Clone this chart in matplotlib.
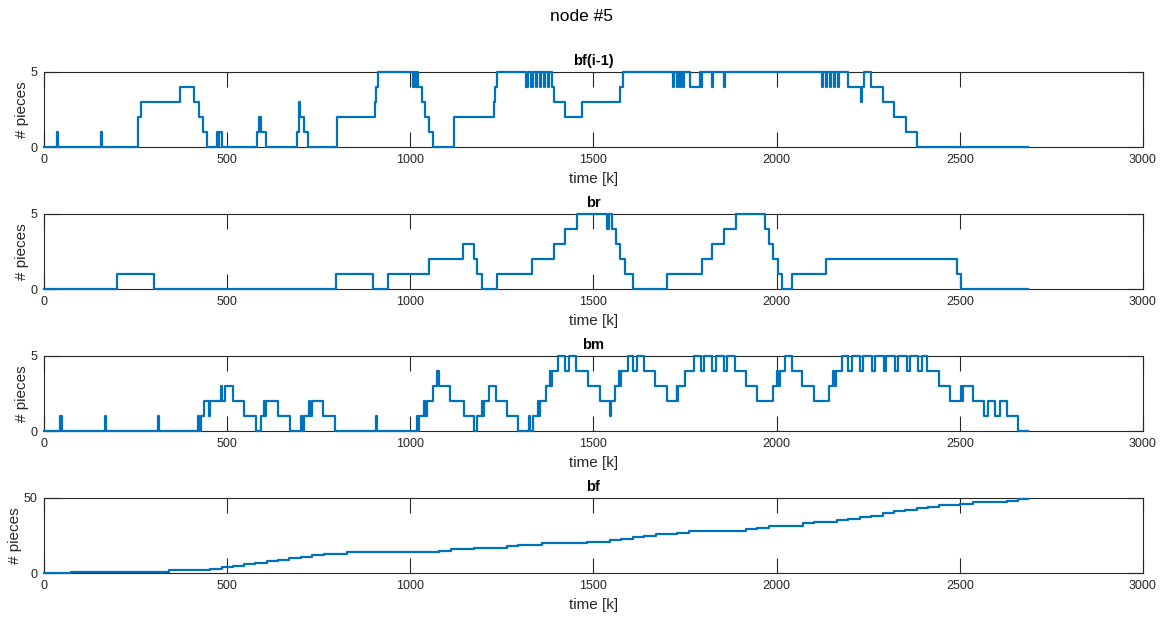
import matplotlib
matplotlib.use("Agg")
from matplotlib import pyplot as plt

# change points of each signal: time [k] and level held from that time on
bf_prev_t = [0, 35, 38, 155, 158, 258, 265, 370, 410, 423, 433, 444, 472, 476, 479, 485,
             581, 588, 592, 607, 690, 695, 700, 710, 721, 799, 903, 907, 913,
             1008, 1011, 1015, 1018, 1022, 1031, 1040, 1052, 1063, 1119, 1229, 1232, 1236,
             1317, 1322, 1330, 1334, 1342, 1346, 1353, 1357, 1364, 1368, 1375, 1379,
             1386, 1393, 1422, 1468, 1572, 1580,
             1718, 1721, 1727, 1730, 1736, 1739, 1745, 1748, 1763, 1790, 1793, 1796,
             1824, 1827, 1856, 1859,
             2123, 2126, 2135, 2138, 2146, 2149, 2157, 2160, 2167, 2170,
             2196, 2230, 2233, 2238, 2258, 2290, 2321, 2352, 2384, 2687]
bf_prev_n = [0, 1, 0, 1, 0, 2, 3, 4, 3, 2, 1, 0, 1, 0, 1, 0,
             1, 2, 1, 0, 1, 3, 2, 1, 0, 2, 3, 4, 5,
             4, 5, 4, 5, 4, 3, 2, 1, 0, 2, 3, 4, 5,
             4, 5, 4, 5, 4, 5, 4, 5, 4, 5, 4, 5,
             4, 3, 2, 3, 4, 5,
             4, 5, 4, 5, 4, 5, 4, 5, 4, 5, 4, 5,
             4, 5, 4, 5,
             4, 5, 4, 5, 4, 5, 4, 5, 4, 5,
             4, 3, 4, 5, 4, 3, 2, 1, 0, 0]

br_t = [0, 200, 301, 797, 897, 940, 1052, 1145, 1174, 1183, 1195, 1238, 1331, 1392,
        1422, 1454, 1538, 1543, 1550, 1562, 1573, 1586, 1609, 1700, 1795, 1824, 1856,
        1888, 1968, 1979, 1991, 2003, 2014, 2042, 2135, 2492, 2503, 2687]
br_n = [0, 1, 0, 1, 0, 1, 2, 3, 2, 1, 0, 1, 2, 3,
        4, 5, 4, 5, 4, 3, 2, 1, 0, 1, 2, 3, 4,
        5, 4, 3, 2, 1, 0, 1, 2, 1, 0, 0]

bm_t = [0, 45, 48, 166, 169, 312, 315, 420, 423, 428, 437, 450, 453, 482, 486, 494,
        517, 546, 579, 592, 600, 603, 606, 640, 672, 701, 705, 710, 724, 727, 731,
        762, 794, 906, 909, 1017, 1020, 1024, 1038, 1041, 1045, 1063, 1072, 1079,
        1108, 1147, 1175, 1183, 1195, 1198, 1202, 1216, 1234, 1263, 1295, 1325, 1328,
        1335, 1349, 1352, 1355, 1370, 1381, 1384, 1388, 1404, 1422, 1433, 1452, 1486,
        1518, 1544, 1547, 1559, 1571, 1573, 1576, 1594, 1609, 1618, 1638, 1668, 1700,
        1727, 1729, 1732, 1750, 1775, 1793, 1802, 1824, 1834, 1856, 1865, 1886, 1916,
        1947, 1989, 2000, 2004, 2008, 2023, 2041, 2069, 2102, 2144, 2155, 2158, 2162,
        2178, 2196, 2205, 2228, 2237, 2260, 2269, 2292, 2299, 2323, 2332, 2355, 2364,
        2387, 2396, 2411, 2443, 2473, 2503, 2506, 2509, 2537, 2567, 2578, 2596, 2610,
        2628, 2660, 2687]
bm_n = [0, 1, 0, 1, 0, 1, 0, 1, 0, 1, 2, 1, 2, 3, 2, 3,
        2, 1, 0, 1, 2, 1, 2, 1, 0, 1, 0, 1, 2, 1, 2,
        1, 0, 1, 0, 1, 0, 1, 2, 1, 2, 3, 4, 3,
        2, 1, 0, 1, 2, 1, 2, 3, 2, 1, 0, 1, 0,
        1, 2, 1, 2, 3, 4, 3, 4, 5, 4, 5, 4, 3,
        2, 1, 2, 3, 4, 3, 4, 5, 4, 5, 4, 3, 2,
        3, 2, 3, 4, 5, 4, 5, 4, 5, 4, 5, 4, 3,
        2, 3, 4, 3, 4, 5, 4, 3, 2, 3, 4, 3, 4,
        5, 4, 5, 4, 5, 4, 5, 4, 5, 4, 5, 4, 5,
        4, 5, 4, 3, 2, 3, 2, 3, 2, 1, 2, 1, 2,
        1, 0, 0]

bf_t = [0, 75, 342, 453, 485, 517, 546, 576, 608, 640, 670, 701, 733, 764, 826,
        1079, 1111, 1174, 1265, 1295, 1359, 1483, 1545, 1576, 1608, 1639, 1671, 1729,
        1761, 1916, 1947, 1978, 2071, 2102, 2164, 2196, 2228, 2258, 2289, 2319, 2350,
        2382, 2412, 2444, 2501, 2535, 2628, 2660, 2687]
bf_n = [0, 1, 2, 3, 4, 5, 6, 7, 8, 9, 10, 11, 12, 13, 14,
        15, 16, 17, 18, 19, 20, 21, 22, 23, 24, 25, 26, 27,
        28, 29, 30, 31, 33, 34, 35, 36, 37, 38, 40, 41, 42,
        43, 44, 45, 46, 47, 48, 49, 49]

panels = [("bf(i-1)", bf_prev_t, bf_prev_n, 5),
          ("br", br_t, br_n, 5),
          ("bm", bm_t, bm_n, 5),
          ("bf", bf_t, bf_n, 50)]

plt.rcParams['font.family'] = ['Liberation Sans', 'DejaVu Sans']

fig = plt.figure(figsize=(11.63, 6.17), dpi=100)
fig.suptitle("node #5", fontsize=12.5, y=0.985)

bottoms = [0.7613, 0.5311, 0.3010, 0.0708]
for (name, t, n, top), b in zip(panels, bottoms):
    ax = fig.add_axes([0.0378, b, 0.9450, 0.1225])
    ax.step(t, n, where='post', color='#0072BD', linewidth=1.6, clip_on=False, zorder=3)
    ax.set_xlim(0, 3000)
    ax.set_ylim(0, top)
    ax.set_xticks(range(0, 3001, 500))
    ax.set_yticks([0, top])
    ax.tick_params(direction='in', top=True, right=True, length=11, width=0.8,
                   labelsize=9, colors='#262626', pad=5)
    for s in ax.spines.values():
        s.set_color('#262626')
        s.set_linewidth(0.8)
    ax.set_title(name, fontsize=10.5, fontweight='bold', pad=5)
    ax.set_xlabel("time [k]", fontsize=11, labelpad=4, color='#262626')
    ax.set_ylabel("# pieces", fontsize=11, labelpad=1, color='#262626')

fig.savefig("out.png", dpi=100)
